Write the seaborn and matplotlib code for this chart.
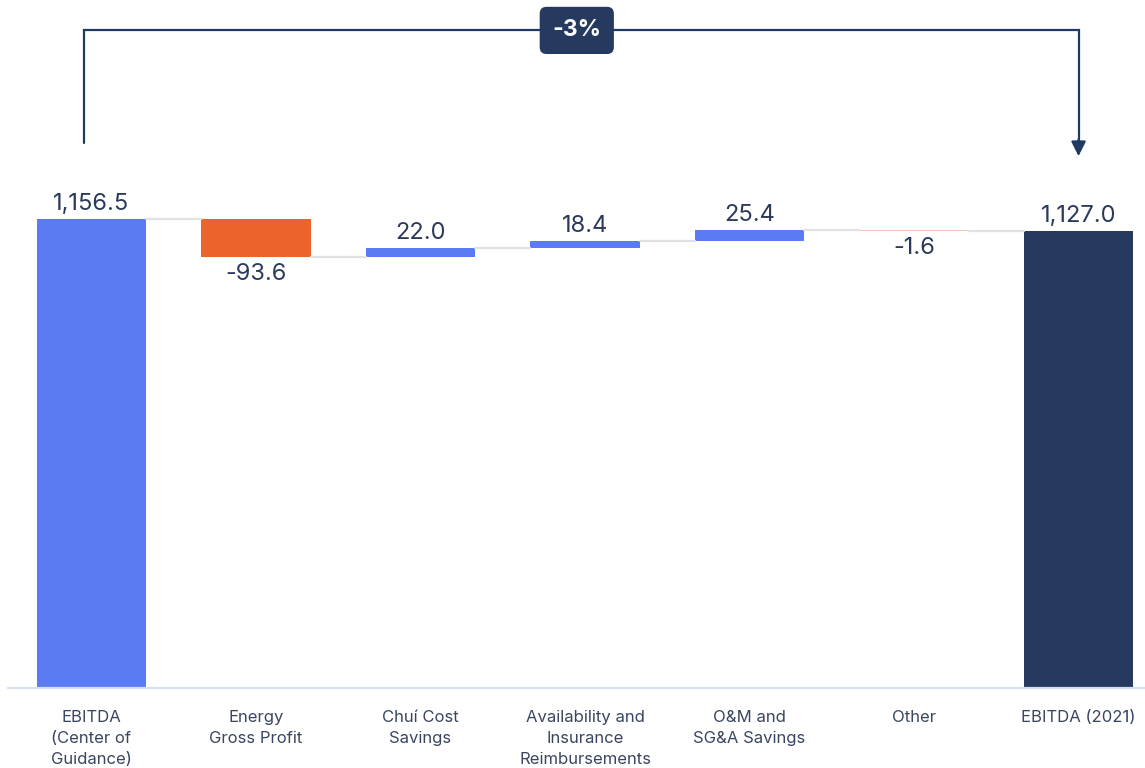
import matplotlib
matplotlib.use('Agg')
import matplotlib.pyplot as plt
import seaborn as sns
import numpy as np

# Waterfall data
categories = ['EBITDA\n(Center of\nGuidance)', 'Energy\nGross Profit', 'Chuí Cost\nSavings',
              'Availability and\nInsurance\nReimbursements', 'O&M and\nSG&A Savings', 'Other',
              'EBITDA (2021)']
start_value = 1156.5
deltas = [-93.6, 22.0, 18.4, 25.4, -1.6]
end_value = 1127.0
labels = ['1,156.5', '-93.6', '22.0', '18.4', '25.4', '-1.6', '1,127.0']
change_label = '-3%'

BLUE = '#5B7BF2'
ORANGE = '#EC642C'
NAVY = '#263A5F'
TEXT = '#2B3A5C'
GRAY = '#E2E2E2'

# bottoms and heights for each bar
bottoms = [0.0]
heights = [start_value]
running = start_value
for d in deltas:
    bottoms.append(running)
    heights.append(d)
    running += d
bottoms.append(0.0)
heights.append(end_value)
bottoms = np.array(bottoms)
heights = np.array(heights)

colors = [BLUE] + [BLUE if d > 0 else ORANGE for d in deltas] + [NAVY]

sns.set_theme(style='white')
plt.rcParams['font.family'] = ['Inter', 'DejaVu Sans']

fig = plt.figure(figsize=(11.45, 7.68), dpi=100)
ax = fig.add_axes([0, 0, 1, 1])
width = 0.663
sns.barplot(x=list(range(len(categories))), y=heights, bottom=bottoms, width=width,
            errorbar=None, ax=ax, color=BLUE, saturation=1)
for patch, c, h in zip(ax.patches, colors, heights):
    patch.set_facecolor(c)
    patch.set_edgecolor('none')
    if abs(h) < 5:
        # tiny bar only shows as a faint line
        patch.set_alpha(0.35)

ax.set_xlim(-0.556, 6.404)
ax.set_ylim(-197, 1697)

# connectors between bars
tops = bottoms + heights
for i in range(len(categories) - 1):
    level = tops[i]
    ax.plot([i + width / 2, i + 1 - width / 2], [level, level], color=GRAY, lw=1.6, zorder=1)

# value labels
for i, (b, h, lab) in enumerate(zip(bottoms, heights, labels)):
    if h >= 0:
        ax.annotate(lab, (i, b + h), xytext=(0, 3), textcoords='offset points',
                    ha='center', va='bottom', fontsize=17, color=TEXT)
    else:
        ax.annotate(lab, (i, b + h), xytext=(0, -4), textcoords='offset points',
                    ha='center', va='top', fontsize=17, color=TEXT)

# bracket with change
y_br = 1622
ax.plot([-0.045, -0.045, 6.0, 6.0], [1345, y_br, y_br, 1350], color='#1F3A63', lw=1.6,
        solid_joinstyle='miter')
ax.annotate('', xy=(6.0, 1305), xytext=(6.0, 1360),
            arrowprops=dict(arrowstyle='-|>', color='#1F3A63', lw=1.6, mutation_scale=22))
ax.text(2.95, y_br, change_label, ha='center', va='center', fontsize=16.5, fontweight='bold',
        color='white',
        bbox=dict(boxstyle='round,pad=0.55,rounding_size=0.3', fc=NAVY, ec='none'))

# axis baseline
ax.plot([-0.507, 6.45], [0, 0], color='#D6DEEB', lw=1.6, clip_on=False, zorder=3)

sns.despine(ax=ax, left=True, bottom=True)
ax.set_yticks([])
ax.set_xticks(range(len(categories)))
ax.set_xticklabels(categories, fontsize=12, color='#3A4660', linespacing=1.5)
ax.tick_params(axis='x', length=0, pad=-42)
for t in ax.get_xticklabels():
    t.set_verticalalignment('top')
ax.grid(False)

fig.savefig('out.png', dpi=100)
